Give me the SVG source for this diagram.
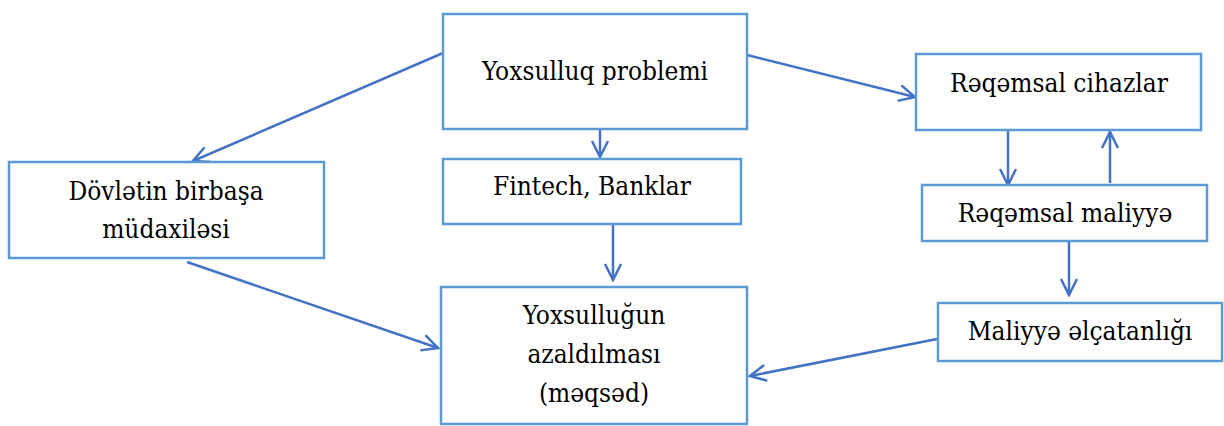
<svg xmlns="http://www.w3.org/2000/svg" width="1224" height="426" viewBox="0 0 1224 426">
<style>
.box{fill:#fff;stroke:#5B9BD5;stroke-width:2.5}
text{font-family:'DejaVu Serif Condensed','DejaVu Serif',serif;font-size:26px;fill:#000;text-anchor:middle}
.c{stroke:#4472C4;stroke-width:2.5;fill:none}
</style>
<defs>
<marker id="a" viewBox="0 0 20 20" refX="18" refY="10" markerWidth="20" markerHeight="20" markerUnits="userSpaceOnUse" orient="auto">
<path d="M2,2 L18,10 L2,18" fill="none" stroke="#4472C4" stroke-width="2.5"/>
</marker>
</defs>
<rect width="1224" height="426" fill="#fff"/>
<g id="connectors">
<line class="c" x1="443" y1="53" x2="193" y2="161" marker-end="url(#a)"/>
<line class="c" x1="600" y1="129" x2="600" y2="157" marker-end="url(#a)"/>
<line class="c" x1="747" y1="55" x2="915" y2="97" marker-end="url(#a)"/>
<line class="c" x1="613" y1="224" x2="613" y2="280" marker-end="url(#a)"/>
<line class="c" x1="187" y1="262" x2="438" y2="348" marker-end="url(#a)"/>
<line class="c" x1="937" y1="339" x2="750" y2="376" marker-end="url(#a)"/>
<line class="c" x1="1008" y1="130" x2="1008" y2="185" marker-end="url(#a)"/>
<line class="c" x1="1110" y1="183" x2="1110" y2="132" marker-end="url(#a)"/>
<line class="c" x1="1069" y1="241" x2="1069" y2="295" marker-end="url(#a)"/>
</g>
<g id="n1"><rect class="box" x="443" y="14" width="304" height="115"/><text x="595" y="80">Yoxsulluq problemi</text></g>
<g id="n2"><rect class="box" x="916" y="54" width="285" height="76"/><text x="1059" y="92">Rəqəmsal cihazlar</text></g>
<g id="n3"><rect class="box" x="922" y="185" width="285" height="56"/><text x="1065" y="222">Rəqəmsal maliyyə</text></g>
<g id="n4"><rect class="box" x="9" y="162" width="315" height="96"/><text x="166" y="200">Dövlətin birbaşa</text><text x="166" y="238">müdaxiləsi</text></g>
<g id="n5"><rect class="box" x="443" y="159" width="298" height="65"/><text x="592" y="195">Fintech, Banklar</text></g>
<g id="n6"><rect class="box" x="441" y="287" width="306" height="137"/><text x="594" y="324">Yoxsulluğun</text><text x="594" y="363">azaldılması</text><text x="594" y="402">(məqsəd)</text></g>
<g id="n7"><rect class="box" x="938" y="303" width="284" height="58"/><text x="1080" y="340">Maliyyə əlçatanlığı</text></g>
</svg>
